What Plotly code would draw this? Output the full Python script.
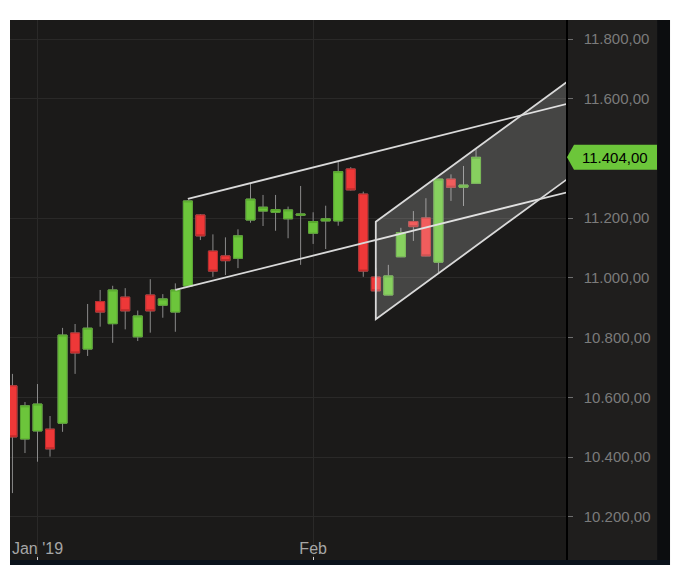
import plotly.graph_objects as go

# ---------------- data ----------------
dates = [
    "2018-12-27", "2018-12-28",
    "2019-01-02", "2019-01-03", "2019-01-04", "2019-01-07", "2019-01-08", "2019-01-09",
    "2019-01-10", "2019-01-11", "2019-01-14", "2019-01-15", "2019-01-16", "2019-01-17",
    "2019-01-18", "2019-01-21", "2019-01-22", "2019-01-23", "2019-01-24", "2019-01-25",
    "2019-01-28", "2019-01-29", "2019-01-30", "2019-01-31",
    "2019-02-01", "2019-02-04", "2019-02-05", "2019-02-06", "2019-02-07", "2019-02-08",
    "2019-02-11", "2019-02-12", "2019-02-13", "2019-02-14", "2019-02-15", "2019-02-18",
    "2019-02-19", "2019-02-20",
]
opens = [10639, 10461, 10488, 10494, 10514, 10816, 10762, 10921, 10847, 10936,
         10803, 10943, 10909, 10886, 10973, 11211, 11090, 11074, 11066, 11194,
         11224, 11220, 11198, 11210, 11150, 11191, 11191, 11365, 11281, 11003,
         10943, 11071, 11189, 11201, 11053, 11331, 11304, 11317]
highs = [10679, 10585, 10645, 10538, 10833, 10846, 10913, 10960, 10974, 10966,
         10891, 10996, 10946, 10982, 11261, 11214, 11146, 11136, 11163, 11317,
         11278, 11278, 11239, 11308, 11220, 11242, 11389, 11371, 11289, 11034,
         11044, 11168, 11224, 11267, 11331, 11347, 11375, 11434]
lows = [10280, 10414, 10385, 10402, 10485, 10679, 10739, 10837, 10783, 10828,
        10789, 10817, 10867, 10820, 10972, 11127, 11004, 11010, 11033, 11185,
        11174, 11158, 11133, 11044, 11114, 11097, 11175, 11293, 11004, 10950,
        10942, 11070, 11124, 11073, 11018, 11258, 11241, 11316]
closes = [10468, 10572, 10578, 10428, 10809, 10749, 10832, 10886, 10960, 10890,
          10873, 10890, 10930, 10960, 11258, 11141, 11023, 11058, 11141, 11264,
          11237, 11229, 11228, 11214, 11189, 11198, 11356, 11295, 11023, 10957,
          11007, 11152, 11172, 11074, 11331, 11304, 11311, 11404]

y_tickvals = [10200, 10400, 10600, 10800, 11000, 11200, 11600, 11800]
y_ticktext = ["10.200,00", "10.400,00", "10.600,00", "10.800,00",
              "11.000,00", "11.200,00", "11.600,00", "11.800,00"]
x_tickvals = ["2019-01-02", "2019-02-01"]
x_ticktext = ["Jan '19", "Feb"]

last_price = 11404
last_label = "11.404,00"

# drawn channels: (start bar index, start price, slope per bar)
ch1_upper = (14, 11265, 10.5)
ch1_lower = (13, 10960, 10.45)
ch2_upper = (29, 11188, 30.7)
ch2_lower = (29, 10862, 30.7)
far_index = 60

# ---------------- styling ----------------
BG = "#1b1a19"
PANEL = "#1f1e1d"
WICK = "#8a8a8a"
GREEN = "#6cc53b"
GREEN_EDGE = "#58a72e"
RED = "#ee3838"
RED_EDGE = "#b82a2a"
LINE = "#d9d9d9"
FONT = "Liberation Sans, Arial, sans-serif"

body_high = [max(o, c) for o, c in zip(opens, closes)]
body_low = [min(o, c) for o, c in zip(opens, closes)]

fig = go.Figure()
fig.add_trace(go.Candlestick(
    x=dates, open=opens, high=highs, low=lows, close=closes,
    increasing=dict(line=dict(color=WICK, width=1), fillcolor=WICK),
    decreasing=dict(line=dict(color=WICK, width=1), fillcolor=WICK),
    whiskerwidth=0, hoverinfo="skip", showlegend=False,
))
fig.add_trace(go.Candlestick(
    x=dates, open=opens, high=body_high, low=body_low, close=closes,
    increasing=dict(line=dict(color=GREEN_EDGE, width=1), fillcolor=GREEN),
    decreasing=dict(line=dict(color=RED_EDGE, width=1), fillcolor=RED),
    whiskerwidth=0, hoverinfo="skip", showlegend=False,
))


def ext(line):
    i0, p0, s = line
    return i0, p0, far_index, p0 + s * (far_index - i0)


shapes = []
# background panels (outside plot area)
shapes.append(dict(type="rect", xref="paper", yref="paper", x0=1.0, x1=1.1637,
                   y0=0, y1=1, fillcolor=PANEL, line=dict(width=0), layer="below"))
shapes.append(dict(type="rect", xref="paper", yref="paper", x0=1.1637, x1=1.1871,
                   y0=0, y1=1, fillcolor="#0c0d0f", line=dict(width=0), layer="below"))
shapes.append(dict(type="rect", xref="paper", yref="paper", x0=0, x1=1.1871,
                   y0=-0.0093, y1=0, fillcolor="#0b131c", line=dict(width=0), layer="below"))

# channel 1 (two parallel lines)
for ln in (ch1_upper, ch1_lower):
    x0, y0, x1, y1 = ext(ln)
    shapes.append(dict(type="line", xref="x", yref="y", x0=x0, y0=y0, x1=x1, y1=y1,
                       line=dict(color=LINE, width=1.8), layer="above"))

# channel 2 (shaded parallelogram)
ux0, uy0, ux1, uy1 = ext(ch2_upper)
lx0, ly0, lx1, ly1 = ext(ch2_lower)
shapes.append(dict(type="path", xref="x", yref="y",
                   path=f"M {lx0},{ly0} L {ux0},{uy0} L {ux1},{uy1} L {lx1},{ly1} Z",
                   fillcolor="rgba(255,255,255,0.19)", line=dict(width=0), layer="above"))
shapes.append(dict(type="path", xref="x", yref="y",
                   path=f"M {lx1},{ly1} L {lx0},{ly0} L {ux0},{uy0} L {ux1},{uy1}",
                   line=dict(color=LINE, width=1.8), layer="above"))

# last price badge
bh = 42
shapes.append(dict(type="path", xref="paper", yref="y",
                   path=(f"M 1.0018,{last_price} L 1.0144,{last_price + bh} "
                         f"L 1.1637,{last_price + bh} L 1.1637,{last_price - bh} "
                         f"L 1.0144,{last_price - bh} Z"),
                   fillcolor="#6cc63a", line=dict(width=0), layer="above"))

fig.update_layout(
    width=675, height=577,
    template="none",
    paper_bgcolor="white",
    plot_bgcolor=BG,
    margin=dict(l=2, r=117, t=12, b=25, pad=0),
    showlegend=False,
    hovermode=False,
    boxgap=0.28, boxgroupgap=0,
    shapes=shapes,
    font=dict(family=FONT),
    annotations=[dict(xref="paper", yref="y", x=1.088, y=last_price, text=last_label,
                      showarrow=False, font=dict(color="#000000", size=15, family=FONT),
                      xanchor="center", yanchor="middle")],
)
fig.update_xaxes(
    type="category",
    range=[-0.195, 44.18],
    rangeslider_visible=False,
    tickmode="array", tickvals=x_tickvals, ticktext=x_ticktext,
    ticklabelposition="inside",
    ticks="inside", ticklen=3, tickcolor="#cfcfcf", tickwidth=1,
    tickfont=dict(color="#a6a6a6", size=16, family=FONT),
    showgrid=True, gridcolor="#2a2928", gridwidth=1,
    showline=False, zeroline=False, automargin=False, fixedrange=True,
)
fig.update_yaxes(
    side="right",
    range=[10056, 11863.6],
    tickmode="array", tickvals=y_tickvals, ticktext=y_ticktext,
    ticks="outside", ticklen=5, tickcolor="#6e6e6e", tickwidth=1,
    ticklabelstandoff=8,
    tickfont=dict(color="#7b7b7b", size=15, family=FONT),
    showgrid=True, gridcolor="#2a2928", gridwidth=1,
    showline=True, linecolor="#000000", linewidth=1.5,
    zeroline=False, automargin=False, fixedrange=True,
)

fig.write_html("out.html")
